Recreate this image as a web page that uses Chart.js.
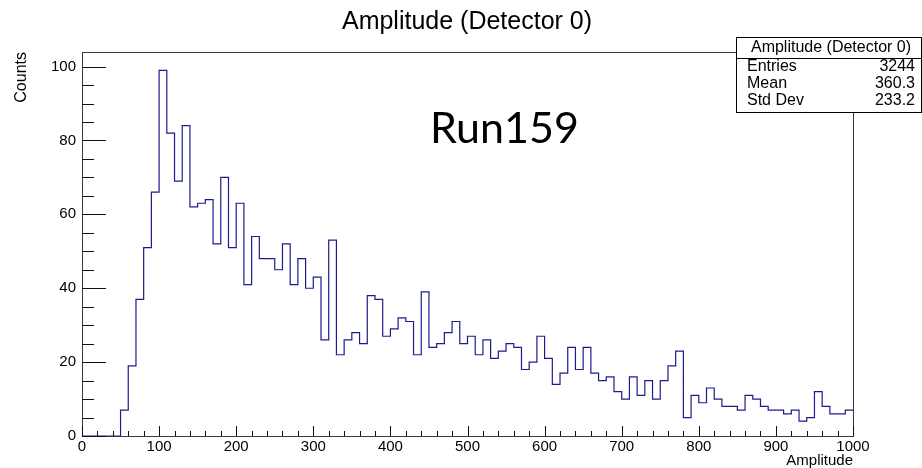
<!DOCTYPE html>
<html>
<head>
<meta charset="utf-8">
<script src="https://cdn.jsdelivr.net/npm/chart.js@4.4.1/dist/chart.umd.min.js"></script>
<style>
  html, body { margin: 0; padding: 0; background: #fff; }
  #wrap { width: 922px; height: 468px; }
</style>
</head>
<body>
<div id="wrap"><canvas id="ampChart" width="922" height="468"></canvas></div>
<script>
// ------------------------------------------
// data: histogram of amplitude, 100 bins of width 10 from 0 to 1000
// ------------------------------------------
const binStart = 0;
const binWidth = 10;
const counts = [
  0, 0, 0, 0, 0, 7, 19, 37, 51, 66,
  99, 82, 69, 84, 62, 63, 64, 52, 70, 51,
  63, 41, 54, 48, 48, 45, 52, 41, 48, 40,
  43, 26, 53, 22, 26, 28, 25, 38, 37, 27,
  29, 32, 31, 22, 39, 24, 25, 28, 31, 25,
  27, 22, 26, 21, 23, 25, 24, 18, 20, 27,
  21, 14, 17, 24, 18, 24, 17, 15, 16, 12,
  10, 16, 11, 15, 10, 15, 19, 23, 5, 11,
  9, 13, 10, 8, 8, 7, 11, 10, 8, 7,
  7, 6, 7, 4, 5, 12, 8, 6, 6, 7
];

const xTicks = [0, 100, 200, 300, 400, 500, 600, 700, 800, 900, 1000];
const yTicks = [0, 20, 40, 60, 80, 100];
const xMinorStep = 20;
const yMinorStep = 5;

const titleText = "Amplitude (Detector 0)";
const xTitle = "Amplitude";
const yTitle = "Counts";
const statsHeader = "Amplitude (Detector 0)";
const statsLabels = ["Entries", "Mean", "Std Dev"];
const statsValues = ["3244", "360.3", "233.2"];
const runLabel = "Run159";

const FONT = "'Liberation Sans', Arial, Helvetica, sans-serif";

// step outline points: left edge of every bin, plus the closing right edge
const histPoints = counts.map((c, i) => ({ x: binStart + i * binWidth, y: c }));
histPoints.push({ x: binStart + counts.length * binWidth, y: counts[counts.length - 1] });

const yMax = Math.max(...counts) * 1.05;

// ------------------------------------------
// plugin: ROOT-like frame, inner ticks, title, stats box, label
// ------------------------------------------
const rootDecor = {
  id: 'rootDecor',
  afterDraw(chart) {
    const ctx = chart.ctx;
    const ca = chart.chartArea;
    const xs = chart.scales.x;
    const ys = chart.scales.y;
    ctx.save();

    // frame
    ctx.strokeStyle = '#3a3a3a';
    ctx.lineWidth = 1;
    ctx.strokeRect(Math.round(ca.left) + 0.5, Math.round(ca.top) + 0.5,
                   Math.round(ca.right - ca.left), Math.round(ca.bottom - ca.top));

    // ticks (inside the frame, left and bottom only)
    ctx.strokeStyle = '#111';
    ctx.beginPath();
    for (let v = 0; v <= ys.max; v += yMinorStep) {
      const y = Math.round(ys.getPixelForValue(v)) + 0.5;
      const len = (v % 20 === 0) ? 24 : 12;
      ctx.moveTo(ca.left, y);
      ctx.lineTo(ca.left + len, y);
    }
    for (let v = xs.min; v <= xs.max; v += xMinorStep) {
      const x = Math.round(xs.getPixelForValue(v)) + 0.5;
      const len = (v % 100 === 0) ? 10 : 5;
      ctx.moveTo(x, ca.bottom);
      ctx.lineTo(x, ca.bottom - len);
    }
    ctx.stroke();

    // title
    ctx.fillStyle = '#000';
    ctx.font = '25px ' + FONT;
    ctx.textAlign = 'center';
    ctx.textBaseline = 'alphabetic';
    ctx.fillText(titleText, 467, 29);

    // run label
    ctx.font = "43px Lato, 'Noto Sans', sans-serif";
    ctx.textAlign = 'left';
    ctx.fillText(runLabel, 430, 143);

    // stats box
    const bx = 736.5, by = 37.5, bw = 185, bh = 75;
    ctx.fillStyle = '#fff';
    ctx.fillRect(bx, by, bw, bh);
    ctx.strokeStyle = '#000';
    ctx.strokeRect(bx, by, bw, bh);
    ctx.beginPath();
    ctx.moveTo(bx, 58.5);
    ctx.lineTo(bx + bw, 58.5);
    ctx.stroke();

    ctx.fillStyle = '#000';
    ctx.font = '16px ' + FONT;
    ctx.textBaseline = 'middle';
    ctx.textAlign = 'center';
    ctx.fillText(statsHeader, 831, 48);
    const rowY = [67, 84, 101];
    statsLabels.forEach((lab, i) => {
      ctx.textAlign = 'left';
      ctx.fillText(lab, 747, rowY[i]);
      ctx.textAlign = 'right';
      ctx.fillText(statsValues[i], 915, rowY[i]);
    });

    ctx.restore();
  }
};

const ctxAmp = document.getElementById('ampChart').getContext('2d');
const ampChart = new Chart(ctxAmp, {
  type: 'line',
  data: {
    datasets: [{
      label: titleText,
      data: histPoints,
      stepped: 'before',
      borderColor: '#1c1c8c',
      borderWidth: 1.2,
      pointRadius: 0,
      fill: false
    }]
  },
  options: {
    responsive: false,
    animation: false,
    layout: { padding: { top: 52, right: 69, left: 0, bottom: 0 } },
    plugins: {
      legend: { display: false },
      title: { display: false },
      tooltip: { enabled: false }
    },
    scales: {
      x: {
        type: 'linear',
        min: 0, max: 1000,
        afterBuildTicks: (s) => { s.ticks = xTicks.map(v => ({ value: v })); },
        afterFit: (s) => { s.height = 32; },
        grid: { display: false, drawTicks: false },
        border: { display: false },
        ticks: { color: '#000', font: { family: FONT, size: 15 }, padding: 2, maxRotation: 0,
                 callback: (v) => String(v) },
        title: { display: true, text: xTitle, align: 'end', color: '#000',
                 font: { family: FONT, size: 15, lineHeight: 1 }, padding: { top: 0, bottom: 0 } }
      },
      y: {
        type: 'linear',
        min: 0, max: yMax,
        afterBuildTicks: (s) => { s.ticks = yTicks.map(v => ({ value: v })); },
        afterFit: (s) => { s.width = 82; },
        grid: { display: false, drawTicks: false },
        border: { display: false },
        ticks: { color: '#000', font: { family: FONT, size: 15 }, padding: 6,
                 callback: (v) => String(v) },
        title: { display: true, text: yTitle, align: 'end', color: '#000',
                 font: { family: FONT, size: 16, lineHeight: 1.2 }, padding: { top: 12, bottom: 0 } }
      }
    }
  },
  plugins: [rootDecor]
});
</script>
</body>
</html>
